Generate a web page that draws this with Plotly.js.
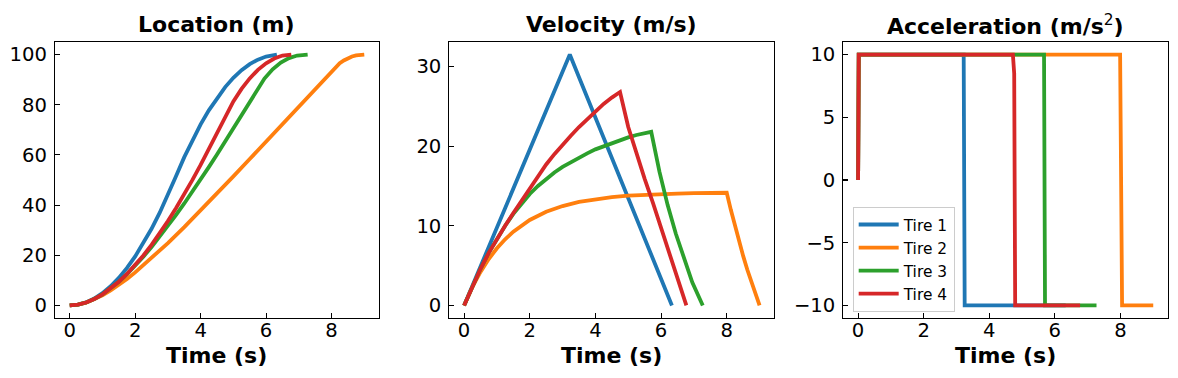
<!DOCTYPE html>
<html>
<head>
<meta charset="utf-8">
<script src="https://cdn.plot.ly/plotly-3.0.1.min.js"></script>
<style>
  html, body { margin: 0; padding: 0; background: #ffffff; }
  #chart { width: 1178px; height: 378px; }
</style>
</head>
<body>
<div id="chart"></div>
<script>
// ---------------- data ----------------
var seriesNames = ["Tire 1", "Tire 2", "Tire 3", "Tire 4"];
var panelTitles = ["Location (m)", "Velocity (m/s)", "Acceleration (m/s<sup><span style=\"font-weight:normal\">2</span></sup>)"];
var xLabel = "Time (s)";

// Tire 1
var time1 = [0,0.25,0.5,0.75,1,1.25,1.5,1.75,2,2.25,2.5,2.75,3,3.22,3.5,3.75,4,4.25,4.5,4.75,5,5.25,5.5,5.75,6,6.33];
var location1 = [0,0.31,1.22,2.75,4.89,7.64,11.0,14.98,19.56,24.76,30.56,36.98,44.01,50.70,59.12,65.98,72.19,77.78,82.72,87.04,90.72,93.78,96.19,97.98,99.2,100];
var velocity1 = [0,2.45,4.89,7.34,9.78,12.23,14.67,17.12,19.56,22.01,24.45,26.9,29.34,31.5,28.66,26.13,23.6,21.07,18.53,16.0,13.47,10.94,8.41,5.88,3.34,0];

// Tire 2
var time2 = [0,0.25,0.5,0.75,1,1.25,1.5,1.75,2,2.5,3,3.5,4,4.5,5,5.5,6,6.5,7,7.5,8,8.125,8.25,8.375,8.5,8.625,8.75,8.875,9];
var location2 = [0,0.30,1.12,2.38,4.01,5.95,8.15,10.57,13.17,18.80,24.87,31.25,37.84,44.59,51.43,58.35,65.33,72.34,79.38,86.44,93.51,95.14,96.52,97.65,98.55,99.23,99.69,99.96,100];
var velocity2 = [0,2.29,4.21,5.82,7.18,8.31,9.26,10.06,10.73,11.76,12.48,12.99,13.35,13.60,13.78,13.90,13.99,14.05,14.10,14.13,14.15,12.0,9.97,8.05,6.22,4.51,2.92,1.43,0];

// Tire 3
var time3 = [0,0.25,0.5,0.75,1,1.25,1.5,1.75,2,2.25,2.5,2.75,3,3.25,3.5,3.75,4,4.25,4.5,4.75,5,5.25,5.5,5.7,5.95,6.2,6.45,6.7,6.95,7.27];
var location3 = [0,0.30,1.18,2.58,4.45,6.75,9.44,12.48,15.83,19.45,23.31,27.39,31.65,36.08,40.65,45.36,50.2,55.15,60.2,65.35,70.59,75.9,81.28,85.62,90.44,94.12,96.82,98.6,99.6,100];
var velocity3 = [0,2.4,4.6,6.6,8.4,10.0,11.5,12.8,14.0,15.0,15.9,16.7,17.4,18.0,18.6,19.1,19.6,20.0,20.4,20.8,21.1,21.4,21.6,21.8,16.8,12.6,9.0,5.8,2.9,0];

// Tire 4
var time4 = [0,0.25,0.5,0.75,1,1.25,1.5,1.75,2,2.25,2.5,2.75,3,3.25,3.5,3.75,4,4.25,4.5,4.75,5,5.25,5.5,5.75,6,6.25,6.5,6.77];
var location4 = [0,0.30,1.18,2.58,4.45,6.75,9.45,12.54,16.03,19.91,24.16,28.75,33.65,38.84,44.3,50.03,56.0,62.21,68.64,75.25,81.3,86.3,90.5,93.9,96.5,98.4,99.6,100];
var velocity4 = [0,2.4,4.6,6.6,8.4,10.0,11.6,13.1,14.8,16.3,17.7,19.0,20.2,21.3,22.4,23.4,24.4,25.3,26.1,26.8,22.4,19.0,15.9,12.9,9.8,6.7,3.6,0];

// Acceleration (its own time samples, the switches are near-vertical)
var accTime1 = [0,0.02,3.22,3.25,6.33];
var accel1   = [0,10,10,-10,-10];
var accTime2 = [0,0.02,7.99,8.02,8.05,9.0];
var accel2   = [0,10,10,-8.5,-10,-10];
var accTime3 = [0,0.02,5.67,5.7,7.27];
var accel3   = [0,10,10,-10,-10];
var accTime4 = [0,0.02,4.72,4.76,4.79,6.77];
var accel4   = [0,10,10,8.5,-10,-10];

var xTicks = [0,2,4,6,8];

// ---------------- figure ----------------
var colors = ["#1f77b4", "#ff7f0e", "#2ca02c", "#d62728"];
var LW = 3.8;
var FONT = "DejaVu Sans";

var times = [time1, time2, time3, time4];
var locs = [location1, location2, location3, location4];
var vels = [velocity1, velocity2, velocity3, velocity4];
var accT = [accTime1, accTime2, accTime3, accTime4];
var accV = [accel1, accel2, accel3, accel4];

var traces = [];
for (var i = 0; i < 4; i++) {
  traces.push({x: times[i], y: locs[i], xaxis: "x", yaxis: "y", type: "scatter", mode: "lines",
    line: {color: colors[i], width: LW}, name: seriesNames[i], showlegend: false, hoverinfo: "skip"});
}
for (var i = 0; i < 4; i++) {
  traces.push({x: times[i], y: vels[i], xaxis: "x2", yaxis: "y2", type: "scatter", mode: "lines",
    line: {color: colors[i], width: LW}, name: seriesNames[i], showlegend: false, hoverinfo: "skip"});
}
for (var i = 0; i < 4; i++) {
  traces.push({x: accT[i], y: accV[i], xaxis: "x3", yaxis: "y3", type: "scatter", mode: "lines",
    line: {color: colors[i], width: LW}, name: seriesNames[i], showlegend: true,
    legendgroup: "g" + i, hoverinfo: "skip"});
}

var tickFont = {family: FONT, size: 19.6, color: "#000000"};
function xax(dom, anchor) {
  return {domain: dom, anchor: anchor, range: [-0.45, 9.45], tickvals: xTicks,
    showline: true, mirror: true, linecolor: "#000", linewidth: 1.1,
    ticks: "inside", ticklen: 4.9, tickwidth: 1.1, tickcolor: "#000",
    ticklabelstandoff: -6,
    showgrid: false, zeroline: false, tickfont: tickFont, fixedrange: true};
}
function yax(range, dtick, anchor) {
  return {domain: [0, 1], anchor: anchor, range: range, dtick: dtick, tick0: 0,
    showline: true, mirror: true, linecolor: "#000", linewidth: 1.1,
    ticks: "inside", ticklen: 4.9, tickwidth: 1.1, tickcolor: "#000",
    ticklabelstandoff: 3,
    showgrid: false, zeroline: false, tickfont: tickFont, fixedrange: true};
}

var d1 = [0, 0.2911], d2 = [0.3543, 0.6463], d3 = [0.7083, 1];
var titleFont = {family: FONT, size: 22, color: "#000000", weight: "bold"};

var annotations = [];
var doms = [d1, d2, d3];
for (var k = 0; k < 3; k++) {
  var cx = (doms[k][0] + doms[k][1]) / 2;
  annotations.push({text: "<b>" + panelTitles[k] + "</b>", xref: "paper", yref: "paper",
    x: cx, y: 1.063, xanchor: "center", yanchor: "middle", showarrow: false, font: titleFont});
  annotations.push({text: "<b>" + xLabel + "</b>", xref: "paper", yref: "paper",
    x: cx, y: -0.136, xanchor: "center", yanchor: "middle", showarrow: false, font: titleFont});
}

var layout = {
  width: 1178, height: 378,
  margin: {l: 55, r: 10, t: 42, b: 60},
  paper_bgcolor: "#ffffff", plot_bgcolor: "#ffffff",
  font: {family: FONT, color: "#000"},
  xaxis: xax(d1, "y"), yaxis: yax([-5, 105], 20, "x"),
  xaxis2: xax(d2, "y2"), yaxis2: yax([-1.58, 33.08], 10, "x2"),
  xaxis3: xax(d3, "y3"), yaxis3: yax([-11, 11], 5, "x3"),
  showlegend: true,
  legend: {x: 0.7167, y: 0.0217, xanchor: "left", yanchor: "bottom",
    bgcolor: "rgba(255,255,255,0.8)", bordercolor: "#cccccc", borderwidth: 1,
    itemwidth: 40,
    font: {family: FONT, size: 15.4, color: "#000"}, tracegroupgap: 0},
  annotations: annotations
};

Plotly.newPlot("chart", traces, layout, {staticPlot: true, displayModeBar: false});
</script>
</body>
</html>
